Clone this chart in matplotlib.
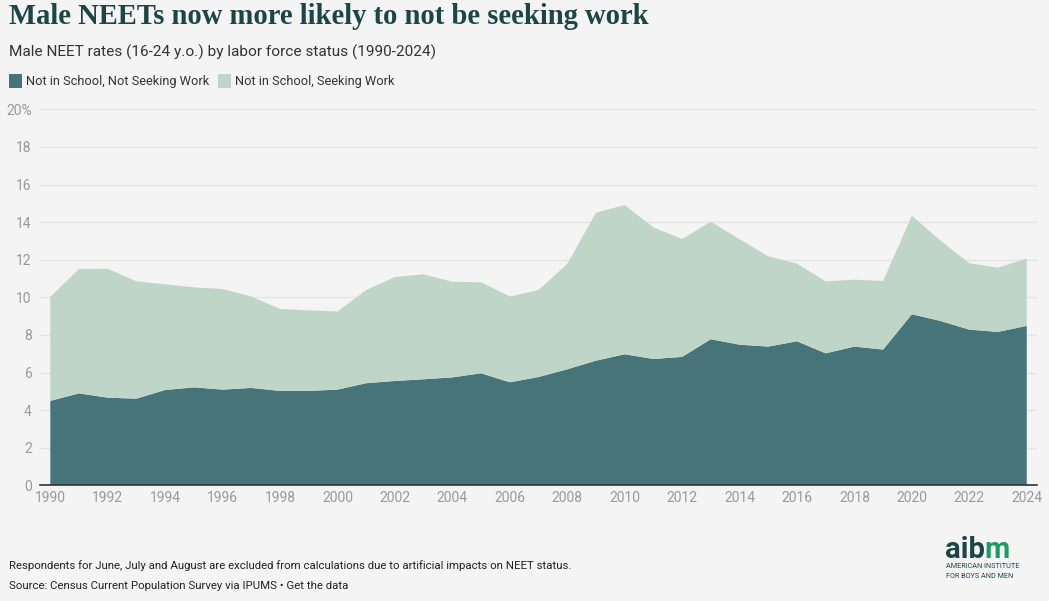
import matplotlib
matplotlib.use("Agg")
import matplotlib.pyplot as plt
from matplotlib.patches import Rectangle

years = list(range(1990, 2025))
not_seeking = [4.49, 4.89, 4.66, 4.61, 5.07, 5.21, 5.09, 5.18, 5.02, 5.02,
               5.09, 5.43, 5.55, 5.64, 5.74, 5.96, 5.48, 5.76, 6.17, 6.63,
               6.97, 6.72, 6.83, 7.77, 7.48, 7.38, 7.66, 7.02, 7.38, 7.22,
               9.10, 8.74, 8.28, 8.16, 8.48]
total = [10.02, 11.51, 11.52, 10.85, 10.69, 10.53, 10.44, 10.04, 9.38, 9.31,
         9.24, 10.39, 11.08, 11.22, 10.83, 10.80, 10.04, 10.39, 11.77, 14.50,
         14.91, 13.72, 13.10, 14.02, 13.09, 12.18, 11.79, 10.85, 10.94, 10.87,
         14.34, 13.01, 11.81, 11.58, 12.06]
seeking = [round(t - n, 2) for t, n in zip(total, not_seeking)]
series_names = ["Not in School, Not Seeking Work", "Not in School, Seeking Work"]
yticks = [0, 2, 4, 6, 8, 10, 12, 14, 16, 18, 20]
ytick_labels = ["0", "2", "4", "6", "8", "10", "12", "14", "16", "18", "20%"]
xticks = list(range(1990, 2025, 2))

DARK = "#467479"
LIGHT = "#bfd5c8"
BG = "#f4f4f4"
TITLE_C = "#1d4548"
TICK_C = "#999999"
SANS = ["Liberation Sans Narrow", "Roboto", "DejaVu Sans"]

plt.rcParams["font.family"] = SANS

fig = plt.figure(figsize=(10.49, 6.01), dpi=100, facecolor=BG)
ax = fig.add_axes([0.0381, 0.1925, 0.9500, 0.6256], facecolor=BG)

ax.stackplot(years, not_seeking, seeking, colors=[DARK, LIGHT],
             labels=series_names, zorder=2, linewidth=0)

ax.set_xlim(1989.64, 2024.34)
ax.set_ylim(0, 20)
ax.set_yticks(yticks)
ax.set_yticklabels(ytick_labels)
ax.set_xticks(xticks)
ax.set_xticklabels([str(x) for x in xticks])
ax.grid(axis="y", color="#e4e4e4", linewidth=1, zorder=0)
ax.set_axisbelow(True)
for s in ["top", "right", "left"]:
    ax.spines[s].set_visible(False)
ax.spines["bottom"].set_color("#333333")
ax.spines["bottom"].set_linewidth(1.2)
ax.spines["bottom"].set_zorder(3)
ax.tick_params(axis="both", length=0, colors=TICK_C, labelsize=10)
ax.tick_params(axis="x", pad=4)
ax.tick_params(axis="y", pad=6)

# Title and subtitle
fig.text(9 / 1049, 1 - 17 / 601, "Male NEETs now more likely to not be seeking work",
         family=["Liberation Serif", "DejaVu Serif"], fontweight="bold",
         fontsize=20.6, color=TITLE_C, va="center", ha="left")
fig.text(9 / 1049, 1 - 52 / 601,
         "Male NEET rates (16-24 y.o.) by labor force status (1990-2024)",
         fontsize=11.1, color="#333333", va="center", ha="left")

# Legend
lx = 9
for name, col in zip(series_names, [DARK, LIGHT]):
    fig.patches.append(Rectangle((lx / 1049, 1 - 88 / 601), 13 / 1049, 14 / 601,
                                 transform=fig.transFigure, facecolor=col,
                                 edgecolor="none"))
    t = fig.text((lx + 17) / 1049, 1 - 81 / 601, name, fontsize=9.2,
                 color="#333333", va="center", ha="left")
    fig.canvas.draw()
    bb = t.get_window_extent()
    lx = bb.x1 + 9

# Footer
fig.text(9 / 1049, 1 - 566 / 601,
         "Respondents for June, July and August are excluded from calculations due to artificial impacts on NEET status.",
         fontsize=8.2, color="#222222", va="center", ha="left")
fig.text(9 / 1049, 1 - 586 / 601,
         "Source: Census Current Population Survey via IPUMS \u2022 Get the data",
         fontsize=8.2, color="#222222", va="center", ha="left")

# Logo
t1 = fig.text(945 / 1049, 1 - 550 / 601, "aib", fontsize=21, fontweight="bold",
              family=["Roboto", "DejaVu Sans"], color=TITLE_C, va="center", ha="left")
fig.canvas.draw()
bb = t1.get_window_extent()
fig.text(bb.x1 / 1049, 1 - 550 / 601, "m", fontsize=21, fontweight="bold",
         family=["Roboto", "DejaVu Sans"], color="#1f9a63", va="center", ha="left")
fig.text(946 / 1049, 1 - 567 / 601, "AMERICAN INSTITUTE", fontsize=5.2,
         family=["Roboto", "DejaVu Sans"], color=TITLE_C, va="center", ha="left")
fig.text(946 / 1049, 1 - 576 / 601, "FOR BOYS AND MEN", fontsize=5.2,
         family=["Roboto", "DejaVu Sans"], color=TITLE_C, va="center", ha="left")

fig.savefig("out.png", dpi=100, facecolor=BG)
